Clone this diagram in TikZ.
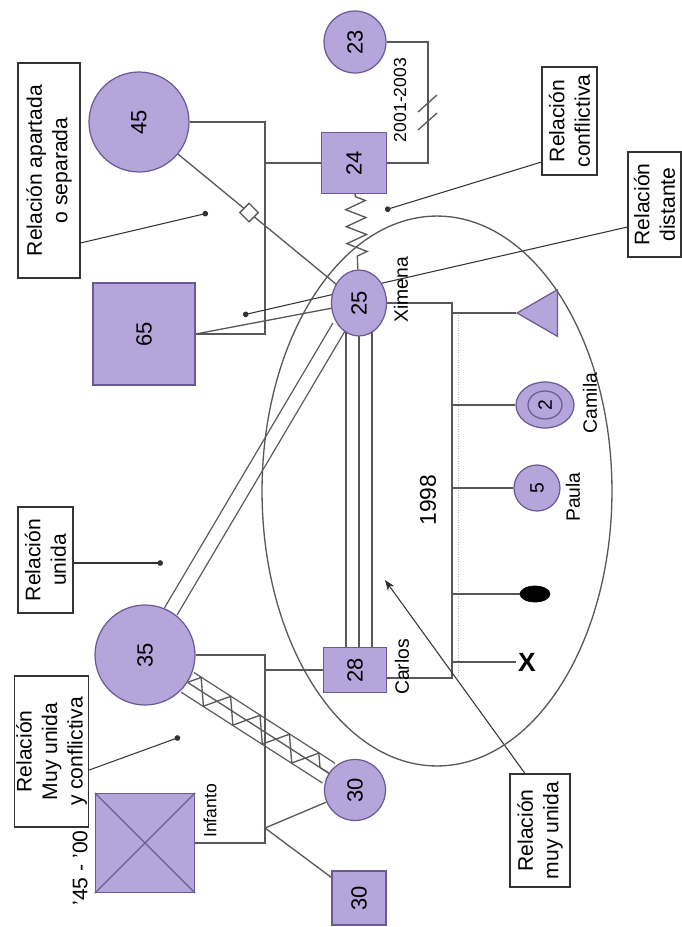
\documentclass[tikz,border=0pt]{standalone}
\usepackage{fontspec}
\setmainfont{Liberation Sans}
\usetikzlibrary{shapes.geometric,arrows.meta,decorations.pathmorphing,backgrounds}
\definecolor{lav}{HTML}{B6A5DA}
\definecolor{lavdark}{HTML}{6A5A96}
\definecolor{linegray}{HTML}{585858}
\tikzset{
  person/.style={draw=lavdark,fill=lav,line width=0.7pt,inner sep=0pt,font=\fontsize{12.5}{14}\selectfont},
  fem/.style={person,circle},
  masc/.style={person,rectangle},
  rel/.style={draw=linegray,line width=0.75pt},
  note/.style={draw=black!80,line width=0.6pt,rotate=90,align=center,fill=white,inner sep=1pt,font=\fontsize{12}{14.5}\selectfont},
  noteline/.style={draw=black!80,line width=0.6pt},
  lbl/.style={rotate=90,inner sep=0pt,font=\fontsize{11}{13}\selectfont},
  dotend/.style={-{Circle[length=3.2pt]}}
}

\begin{document}
\begin{tikzpicture}[x=0.02cm,y=-0.02cm]
\useasboundingbox (0,0) rectangle (681,927);
\node[fem,minimum size=2cm] (p45) at (139,122) {\rotatebox{90}{45}};
\node[masc,minimum size=2.04cm] (p65) at (144,334) {\rotatebox{90}{65}};
\node[fem,minimum size=1.24cm] (p23) at (355,42) {\rotatebox{90}{23}};
\node[masc,minimum width=1.3cm,minimum height=1.22cm] (p24) at (354,163) {\rotatebox{90}{24}};
\node[person,ellipse,minimum width=1.1cm,minimum height=1.32cm] (p25) at (359,303) {\rotatebox{90}{25}};
%-------------
\node[fem,minimum size=2cm] (p35) at (145,655) {\rotatebox{90}{35}};
\node[masc,minimum size=1.98cm] (pdec) at (145,843) {};
\draw[lavdark,line width=0.7pt] (pdec.north west) -- (pdec.south east) (pdec.north east) -- (pdec.south west);
\node[masc,minimum width=1.26cm,minimum height=0.9cm] (p28) at (355,670) {\rotatebox{90}{28}};
\node[fem,minimum size=1.22cm] (p30f) at (355,790) {\rotatebox{90}{30}};
\node[masc,minimum size=1.08cm] (p30m) at (359,898) {\rotatebox{90}{30}};
%-------------
\node[person,regular polygon,regular polygon sides=3,shape border rotate=90,minimum size=1.08cm] (tri) at (544,313) {};
\node[person,ellipse,minimum width=1.16cm,minimum height=0.92cm] (camila) at (545,405) {};
\node[person,ellipse,minimum width=0.68cm,minimum height=0.56cm,font=\fontsize{11}{13}\selectfont] (camilain) at (camila) {\rotatebox{90}{2}};
\node[fem,minimum size=0.92cm,font=\fontsize{11}{13}\selectfont] (paula) at (537,488) {\rotatebox{90}{5}};
\node[ellipse,draw=black,fill=black,inner sep=0pt,minimum width=0.6cm,minimum height=0.32cm] (bebe) at (535,594) {};
\node[inner sep=1pt,font=\fontsize{15}{15}\selectfont\bfseries] (xmark) at (527,662) {X};
%-------------
\node[lbl] (lxim) at (401,290) {Ximena};
\node[lbl] (lcar) at (402,667) {Carlos};
\node[lbl] (lpau) at (573,497) {Paula};
\node[lbl] (lcam) at (590,403) {Camila};
\node[lbl,font=\fontsize{10}{12}\selectfont] (linf) at (210,811) {Infanto};
\node[lbl,font=\fontsize{10}{12}\selectfont] (lfecha) at (400,100) {2001-2003};
\node[lbl,font=\fontsize{13}{15}\selectfont] (lanio) at (428,500) {1998};
\node[lbl,font=\fontsize{12}{14}\selectfont] (ldec) at (80,868) {'45 - '00};
%-------------
\node[note,minimum width=4.3cm,minimum height=1.24cm] (napart) at (49,170.5) {Relación apartada\\o separada};
\node[note,minimum width=2.12cm,minimum height=1.1cm] (nunida) at (45.5,560) {Relación\\unida};
\node[note,minimum width=3.02cm,minimum height=1.46cm] (nmuycon) at (51.5,751.5) {Relación\\Muy unida\\y conflictiva};
\node[note,minimum width=2.26cm,minimum height=1.2cm] (nmuy) at (540,830.5) {Relación\\muy unida};
\node[note,minimum width=2.16cm,minimum height=1.1cm] (nconf) at (569.5,121) {Relación\\conflictiva};
\node[note,minimum width=2.1cm,minimum height=1.06cm] (ndist) at (654.5,204.5) {Relación\\distante};

\begin{pgfonlayer}{background}
\coordinate (sib) at (452,0);
\coordinate (tw) at (265,828);
\coordinate (pc) at ([yshift=-0.16cm]p28.east);
% familias
\draw[rel] (p45.east) -- (p45.east -| 265,0) |- (p65.east);
\draw[rel] (p24.west) -- (p24.west -| 265,0);
\draw[rel] (p23.east) -- (p23.east -| 428,0) |- (p24.east);
\draw[rel] (418,112) -- (437,95) (418,130) -- (437,113);
\draw[rel,double=white,double distance=0.44cm] (p35) -- (p30f);
\draw[rel] (p35) -- (p30f);
\draw[rel,decorate,decoration={zigzag,segment length=0.7cm,amplitude=0.23cm}] (p35) -- (p30f);
\draw[rel] (p35.east) -- (p35.east -| 265,0) |- (pdec.east);
\draw[rel] (p28.west) -- (p28.west -| 265,0);
\draw[rel] (p30f) -- (tw) -- (p30m);
% relaciones
\draw[rel] (p45) -- (p25) node[pos=0.45,diamond,draw=linegray,fill=white,inner sep=0pt,minimum size=0.38cm] (sep) {};
\draw[rel] (p65.east) -- (p25);
\draw[rel,decorate,decoration={zigzag,segment length=0.34cm,amplitude=0.2cm,pre length=0.05cm,post length=0.22cm}] (p24) -- (p25);
\draw[rel,double=white,double distance=0.26cm] (p35) -- (p25.south west);
\foreach \dx in {-13,0,13}
\draw[rel] ([xshift=\dx*0.02cm]p25.center) -- ([xshift=\dx*0.02cm]p25.center |- p28.north);
% hijos
\draw[rel] (p25.east) -- (p25.east -| sib) -- (pc -| sib) -- (pc);
\draw[gray!55,densely dotted] (458,313) -- (458,677);
\foreach \c in {tri,camila,paula,bebe,xmark}
\draw[rel] (\c -| sib) -- (\c);
% notas
\coordinate (dapart) at (208,213);
\coordinate (dunida) at (163,563);
\coordinate (dmuycon) at (180,737);
\coordinate (dconf) at (385,210);
\coordinate (ddist) at (243,315);
\coordinate (amuy) at (385,580);
\draw[noteline,dotend] (napart.south |- 0,243) -- (dapart);
\draw[noteline,dotend] (nunida.south |- 0,563) -- (dunida);
\draw[noteline,dotend] (nmuycon.south |- 0,770) -- (dmuycon);
\draw[noteline,dotend] (nconf.north |- 0,162) -- (dconf);
\draw[noteline,dotend] (ndist.north |- 0,227) -- (ddist);
\draw[noteline,-{Stealth[length=6pt]}] (nmuy.east -| 525,0) -- (amuy);
\draw[rel] (437,491) ellipse [x radius=3.5cm,y radius=5.5cm];
\end{pgfonlayer}
\end{tikzpicture}
\end{document}
